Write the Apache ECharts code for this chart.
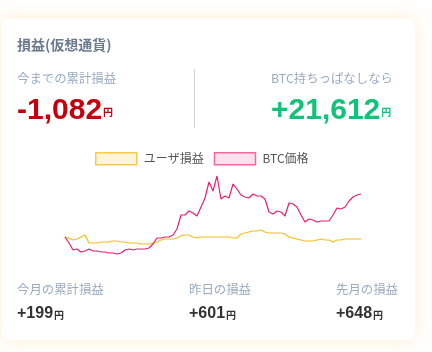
<!DOCTYPE html>
<html>
<head>
<meta charset="utf-8">
<script src="https://cdn.jsdelivr.net/npm/echarts@6/dist/echarts.min.js"></script>
<style>
  html, body { margin: 0; padding: 0; background: #fff; }
  #pnlchart { width: 432px; height: 352px; }
</style>
</head>
<body>
<div id="pnlchart"></div>
<script>
  // ユーザ損益 と BTC価格 (開始点を0とした相対値)
  const userPnl = [0, -1, -3, -2, 0, 2, -6, -6, -6, -5, -5, -5, -4, -4, -5, -5, -6, -6, -6, -7,
    -7, -7, -6, -5, -3, -2, -2, -2, -1, 1, 2, 2, 0, -1, 0, 0, 0, 0, 0, 0,
    0, 0, -1, -1, 3, 4, 5, 6, 6, 7, 5, 4, 4, 4, 4, 3, 0, -1, -2, -3,
    -4, -4, -4, -3, -2, -3, -3, -5, -3, -3, -2, -2, -2, -2, -2]
  const btcPrice = [0, -6, -13, -12, -15, -14, -12, -14, -14, -15, -15, -16, -16, -17, -16, -13, -12, -13, -12, -12,
    -12, -11, -7, -1, -1, 0, 0, 2, 8, 22, 22, 26, 24, 21, 30, 39, 55, 46, 61, 38,
    41, 39, 53, 48, 42, 40, 39, 43, 41, 41, 38, 25, 23, 26, 25, 21, 34, 33, 30, 22,
    15, 18, 17, 15, 16, 16, 16, 22, 29, 28, 30, 36, 40, 42, 43]
  const days = btcPrice.map((_, i) => i + 1)

  const summary = { total: '-1,082', hold: '+21,612' }
  const monthLabels = ['今月の累計損益', '昨日の損益', '先月の損益']
  const monthValues = ['+199', '+601', '+648']

  const jp = '"Noto Sans CJK JP", sans-serif'
  const num = '"Liberation Sans", Arial, sans-serif'

  const chart = echarts.init(document.querySelector('#pnlchart'))

  const valueText = (x, y, val, color, size, yenSize) => ({
    type: 'text', x: x, y: y, z: 10,
    style: {
      text: '{n|' + val + '}{y|円}',
      textVerticalAlign: 'middle',
      rich: {
        n: { fontSize: size, fontWeight: 'bold', fontFamily: num, fill: color },
        y: { fontSize: yenSize, fontWeight: 'bold', fontFamily: jp, fill: color, padding: [3, 0, 0, 1] }
      }
    }
  })
  const label = (x, y, txt, color, size, weight) => ({
    type: 'text', x: x, y: y, z: 10,
    style: { text: txt, fill: color, font: (weight || 'normal') + ' ' + size + 'px ' + jp, textVerticalAlign: 'middle' }
  })

  chart.setOption({
    animation: false,
    graphic: [
      {
        type: 'rect', z: -10,
        shape: { x: 2, y: 19, width: 413, height: 321, r: 6 },
        style: { fill: '#fff', shadowBlur: 18, shadowColor: 'rgba(255, 205, 110, 0.35)' }
      },
      {
        type: 'line', z: 10,
        shape: { x1: 194.5, y1: 69, x2: 194.5, y2: 128 },
        style: { stroke: '#d4d4d4', lineWidth: 1 }
      },
      label(17, 45, '損益(仮想通貨)', '#6c7a8f', 14, 'bold'),
      label(17, 78, '今までの累計損益', '#9aabc3', 12.4),
      label(271, 78, 'BTC持ちっぱなしなら', '#9aabc3', 12.4),
      valueText(17, 110.5, summary.total, '#c4000f', 30, 10),
      valueText(271, 110.5, summary.hold, '#12c27a', 30, 10),
      label(17, 289, monthLabels[0], '#9aabc3', 12.4),
      label(189, 289, monthLabels[1], '#9aabc3', 12.4),
      label(336, 289, monthLabels[2], '#9aabc3', 12.4),
      valueText(17, 313.5, monthValues[0], '#333', 16, 10),
      valueText(189, 313.5, monthValues[1], '#333', 16, 10),
      valueText(336, 313.5, monthValues[2], '#333', 16, 10)
    ],
    legend: {
      left: 95,
      top: 152,
      padding: 0,
      icon: 'rect',
      itemWidth: 41,
      itemHeight: 12,
      itemGap: 10,
      textStyle: { color: '#555', fontSize: 12, fontFamily: jp, padding: [0, 0, 0, 2] },
      data: [
        { name: 'ユーザ損益', itemStyle: { color: '#fff6da', borderColor: '#f8c94a', borderWidth: 1.5 } },
        { name: 'BTC価格', itemStyle: { color: '#ffe1ec', borderColor: '#f26a9c', borderWidth: 1.5 } }
      ]
    },
    grid: { left: 65, right: 71, top: 175, bottom: 97 },
    xAxis: {
      type: 'category',
      boundaryGap: false,
      data: days,
      show: false
    },
    yAxis: {
      type: 'value',
      min: -18,
      max: 62,
      show: false
    },
    series: [
      {
        name: 'ユーザ損益',
        type: 'line',
        data: userPnl,
        symbol: 'none',
        color: '#f7bd1c',
        lineStyle: { color: '#f7bd1c', width: 1.2 }
      },
      {
        name: 'BTC価格',
        type: 'line',
        data: btcPrice,
        symbol: 'none',
        color: '#ea1e6e',
        lineStyle: { color: '#ea1e6e', width: 1.2 }
      }
    ]
  })
</script>
</body>
</html>
